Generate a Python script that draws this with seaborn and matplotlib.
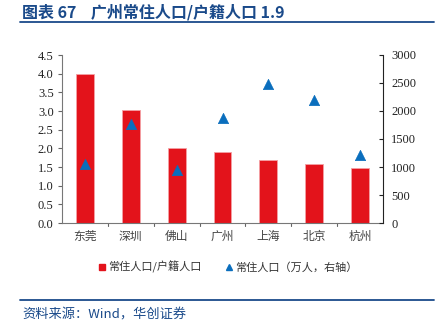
import matplotlib
matplotlib.use("Agg")
import matplotlib.pyplot as plt
import seaborn as sns
import pandas as pd
from matplotlib.lines import Line2D

cities = ["东莞", "深圳", "佛山", "广州", "上海", "北京", "杭州"]
ratio = [3.98, 3.02, 2.02, 1.90, 1.69, 1.57, 1.47]
resident = [1047, 1768, 950, 1881, 2489, 2189, 1220]
left_ticks = [0.0, 0.5, 1.0, 1.5, 2.0, 2.5, 3.0, 3.5, 4.0, 4.5]
right_ticks = [0, 500, 1000, 1500, 2000, 2500, 3000]

df = pd.DataFrame({"city": cities, "ratio": ratio, "resident": resident})

sns.set_theme(style="white")
plt.rcParams['font.family'] = ['Liberation Serif', 'Noto Sans CJK SC', 'DejaVu Sans']
plt.rcParams['axes.unicode_minus'] = False

RED = "#E3131B"
BLUE = "#0A6EBD"
NAVY = "#1A4A8A"
CJK = ['Noto Sans CJK SC', 'DejaVu Sans']
SERIF = ['Liberation Serif', 'DejaVu Serif']

fig = plt.figure(figsize=(4.40, 3.34), dpi=100)
ax = fig.add_axes([62/440, 1-223/334, (383-62)/440, (223-55)/334])

sns.barplot(data=df, x="city", y="ratio", ax=ax, color=RED, width=0.39,
            edgecolor="#F4A0A4", linewidth=0.6, saturation=1)
ax.set_ylim(0, 4.5)
ax.set_yticks(left_ticks)
ax.set_yticklabels([f"{v:.1f}" for v in left_ticks], fontsize=9, color="#222222", family=SERIF)
ax.set_xlim(-0.5, 6.5)
ax.set_xlabel("")
ax.set_ylabel("")
ax.set_xticks(range(len(cities)))
ax.set_xticklabels(cities, fontsize=8.5, color="#444444", family=CJK)
ax.tick_params(axis='x', length=0, pad=5)
ax.tick_params(axis='y', direction='out', length=3, width=0.8, color="#666666", left=True, pad=3)
for b in [0.5 + i for i in range(6)]:
    ax.plot([b, b], [0, -0.07], color="#666666", lw=0.8, clip_on=False)

for s in ["top", "right"]:
    ax.spines[s].set_visible(False)
ax.spines["left"].set_color("#777777")
ax.spines["bottom"].set_color("#777777")
ax.spines["left"].set_linewidth(0.8)
ax.spines["bottom"].set_linewidth(0.8)

ax2 = ax.twinx()
sns.scatterplot(data=df, x="city", y="resident", ax=ax2, marker="^", s=55,
                color=BLUE, edgecolor=BLUE, linewidth=0.5, legend=False, zorder=5)
ax2.set_ylim(0, 3000)
ax2.set_xlim(-0.5, 6.5)
ax2.set_yticks(right_ticks)
ax2.set_yticklabels([str(v) for v in right_ticks], fontsize=9, color="#222222", family=SERIF)
ax2.set_ylabel("")
ax2.set_xlabel("")
ax2.tick_params(axis='y', direction='in', length=3, width=0.8, color="#222222", right=True, pad=6)
for s in ["top", "left", "bottom"]:
    ax2.spines[s].set_visible(False)
ax2.spines["right"].set_color("#222222")
ax2.spines["right"].set_linewidth(0.8)

handles = [
    Line2D([0], [0], marker='s', color='none', markerfacecolor=RED, markeredgecolor=RED, markersize=5),
    Line2D([0], [0], marker='^', color='none', markerfacecolor=BLUE, markeredgecolor=BLUE, markersize=5),
]
labels = ["常住人口/户籍人口", "常住人口（万人，右轴）"]
fig.legend(handles, labels, loc="center", bbox_to_anchor=(228/440, 1-267/334), ncol=2,
           frameon=False, prop={'family': CJK, 'size': 8}, handlelength=0.6,
           handletextpad=0.2, columnspacing=2.2, labelcolor="#333333")

fig.text(22/440, 1-12/334, "图表 67    广州常住人口/户籍人口 1.9", fontsize=11.5, fontweight='bold',
         color=NAVY, va="center", ha="left", family=CJK)
fig.add_artist(Line2D([20/440, 434/440], [1-22/334, 1-22/334], color=NAVY, lw=1.3))
fig.add_artist(Line2D([20/440, 434/440], [1-300/334, 1-300/334], color=NAVY, lw=1.3))
fig.text(22/440, 1-315/334, "资料来源：Wind，华创证券", fontsize=9.5, style='italic',
         color=NAVY, va="center", ha="left", family=CJK)

fig.savefig("out.png", dpi=100)
